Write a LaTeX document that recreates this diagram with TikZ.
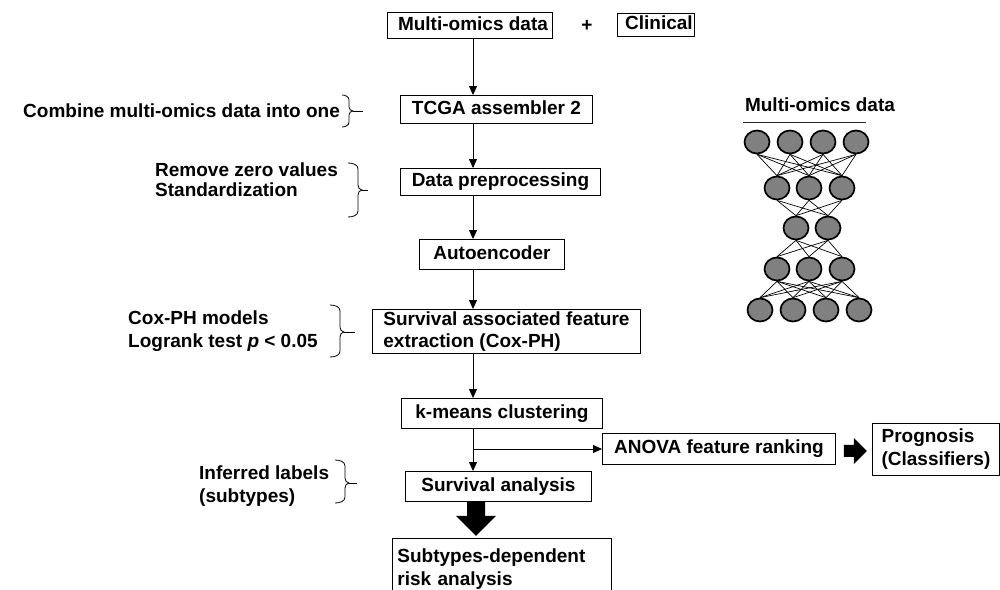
\documentclass[tikz,border=0pt]{standalone}
\usepackage{fontspec}
\setmainfont{Liberation Sans}
\usetikzlibrary{arrows.meta,shapes.geometric}
\begin{document}
\begin{tikzpicture}[x=1pt,y=-1pt,
  every node/.style={font=\fontsize{19}{23}\selectfont\bfseries},
  box/.style={draw,line width=0.9pt,anchor=north west,inner sep=0pt,text height=14pt,text depth=4pt},
  box2/.style={draw,line width=0.9pt,anchor=north west,inner sep=0pt,align=left},
  lbl/.style={anchor=north west,inner sep=0pt,align=left},
  arr/.style={line width=0.8pt,-{Triangle[length=9pt,width=8pt]}},
  brc/.style={line width=0.8pt},
  neuron/.style={ellipse,draw,line width=1.7pt,fill=gray,minimum width=25pt,minimum height=23pt,inner sep=0pt},
  link/.style={line width=0.7pt},
  thick arrow/.style={fill=black}]
\fill[white] (0,0) rectangle (1000,589);
\useasboundingbox (0,0) rectangle (1000,589);

% main column boxes
\node[box,minimum width=165pt,minimum height=26pt] (md) at (387,12) {\hspace{6pt}Multi-omics data};
\node (plus) at (587,26) {+};
\node[box,minimum width=77pt,minimum height=23pt] (clin) at (617,13) {\hspace{6pt}Clinical};
\node[box,minimum width=192pt,minimum height=28pt] (tcga) at (400,95) {TCGA assembler 2\hspace{8pt}};
\node[box,minimum width=200pt,minimum height=27pt] (dp) at (400,168) {Data preprocessing};
\node[box,minimum width=145pt,minimum height=30pt] (ae) at (419,239) {Autoencoder};
\node[box2,minimum width=268pt,minimum height=44pt,font=\fontsize{19}{22}\selectfont\bfseries] (sa) at (372,309) {Survival associated feature\\extraction (Cox-PH)};
\node[box,minimum width=201pt,minimum height=30pt] (km) at (401,398) {k-means clustering};
\node[box,minimum width=186pt,minimum height=30pt] (surv) at (405,471) {Survival analysis\hspace{14pt}};
\node[box,minimum width=233pt,minimum height=31pt] (anova) at (602,433) {ANOVA feature ranking};
\node[box2,minimum width=127pt,minimum height=52pt] (prog) at (872,423) {Prognosis\\(Classifiers)};
\node[box2,minimum width=219pt,minimum height=62pt,text width=209pt] (sub) at (392,538) {Subtypes-dependent\\risk analysis};

% left labels
\node[anchor=west,inner sep=0pt] (comb) at (23,111) {Combine multi-omics data into one};
\node[lbl,font=\fontsize{19}{20}\selectfont\bfseries] (rem) at (155,163) {Remove zero values\\Standardization};
\node[lbl] (cox) at (128,311) {Cox-PH models\\Logrank test \textit{p} < 0.05};
\node[lbl] (inf) at (199,466) {Inferred labels\\(subtypes)};

% connectors
\coordinate (ax) at (473,0);
\coordinate (tx) at (476,0);
\coordinate (br) at (473,449);
\draw[arr] (md.south -| ax) -- (tcga.north -| ax);
\draw[arr] (tcga.south -| ax) -- (dp.north -| ax);
\draw[arr] (dp.south -| ax) -- (ae.north -| ax);
\draw[arr] (ae.south -| ax) -- (sa.north -| ax);
\draw[arr] (sa.south -| ax) -- (km.north -| ax);
\draw[arr] (km.south -| ax) -- (surv.north -| ax);
\draw[arr] (br) -- (br -| anova.west);

% thick arrows
\fill[thick arrow] (surv.south -| tx) ++(-9,0) -- ++(18,0) -- ++(0,14) -- ++(11,0) -- ++(-20,20) -- ++(-20,-20) -- ++(11,0) -- cycle;
\fill[thick arrow] (anova.east) ++(8,-4) -- ++(10,0) -- ++(0,-7) -- ++(13,13) -- ++(-13,13) -- ++(0,-7) -- ++(-10,0) -- cycle;

% braces
\draw[brc] (342,95) to[out=0,in=90] (349,100) -- (349,107) to[out=-90,in=180] (353,111) to[out=180,in=90] (349,115) -- (349,122) to[out=-90,in=0] (342,127);
\draw[brc] (353,111) -- (363,111);
\draw[brc] (348,163) to[out=0,in=90] (358,169) -- (358,185) to[out=-90,in=180] (362,190) to[out=180,in=90] (358,195) -- (358,211) to[out=-90,in=0] (348,217);
\draw[brc] (362,190) -- (368,190);
\draw[brc] (330,305) to[out=0,in=90] (340,311) -- (340,327) to[out=-90,in=180] (344,332) to[out=180,in=90] (340,337) -- (340,351) to[out=-90,in=0] (330,357);
\draw[brc] (344,332) -- (355,332);
\draw[brc] (335,460) to[out=0,in=90] (345,466) -- (345,478) to[out=-90,in=180] (349,483) to[out=180,in=90] (345,488) -- (345,497) to[out=-90,in=0] (335,503);
\draw[brc] (349,483) -- (357,483);

% autoencoder network
\node (nt) at (820,105) {Multi-omics data};
\draw[line width=1pt,black!85] (743,122) -- (866,122);
\foreach \x [count=\i] in {757,790,823,856} \node[neuron] (a\i) at (\x,142) {};
\foreach \x [count=\i] in {777,809,842} \node[neuron] (b\i) at (\x,188) {};
\foreach \x [count=\i] in {796,828} \node[neuron] (c\i) at (\x,228) {};
\foreach \x [count=\i] in {777,809,842} \node[neuron] (d\i) at (\x,269) {};
\foreach \x [count=\i] in {760,793,826,859} \node[neuron] (e\i) at (\x,310) {};
\foreach \i in {1,...,4} \foreach \j in {1,2,3} \draw[link] (a\i.south) -- (b\j.north);
\foreach \i in {1,2,3} \foreach \j in {1,2} \draw[link] (b\i.south) -- (c\j.north);
\foreach \i in {1,2} \foreach \j in {1,2,3} \draw[link] (c\i.south) -- (d\j.north);
\foreach \i in {1,2,3} \foreach \j in {1,...,4} \draw[link] (d\i.south) -- (e\j.north);
\end{tikzpicture}
\end{document}
